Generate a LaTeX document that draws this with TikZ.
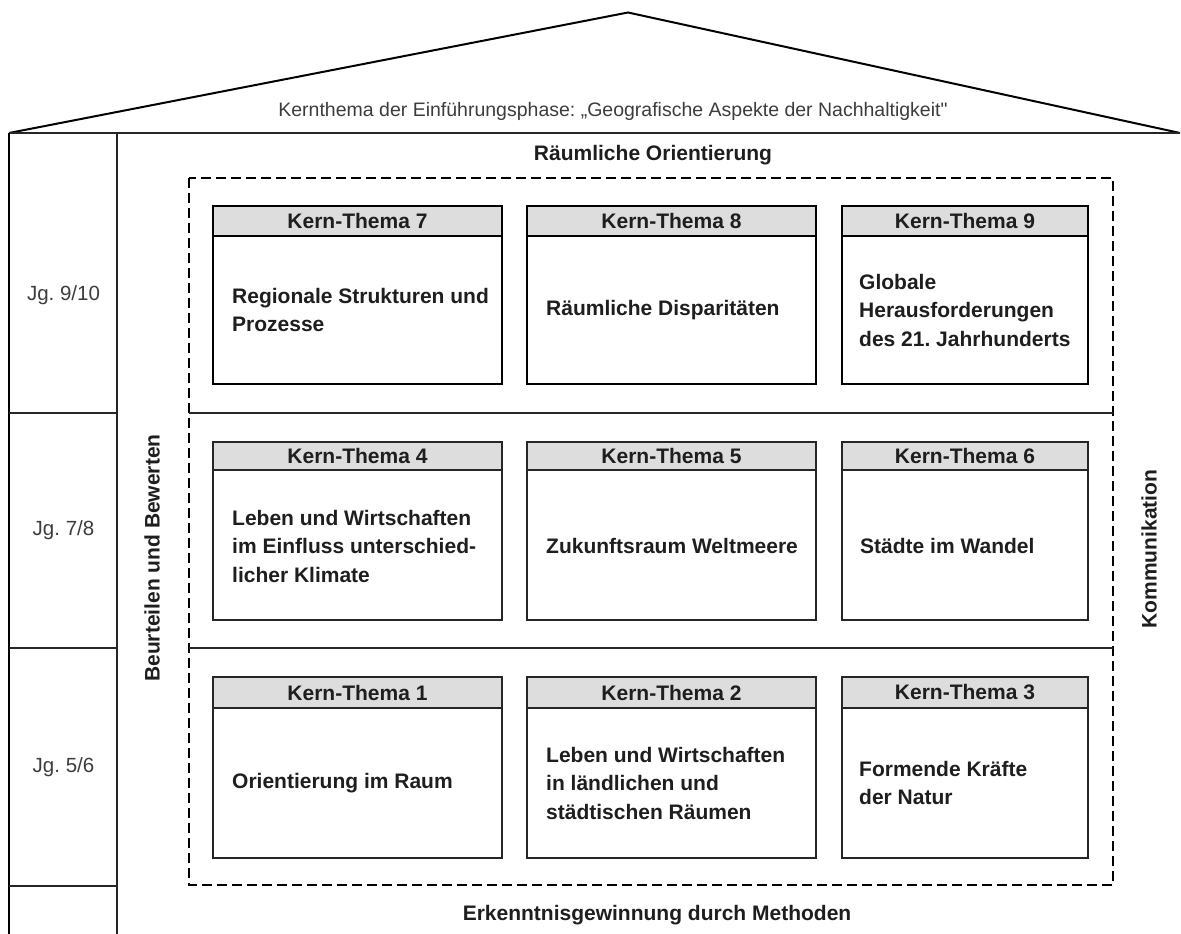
\documentclass[tikz,border=0pt]{standalone}
\usepackage{fontspec}
\setmainfont{Liberation Sans}
\definecolor{hdrgray}{HTML}{DDDDDD}
\definecolor{txtdark}{HTML}{1E1E1E}
\definecolor{txtgray}{HTML}{3C3C3C}
\frenchspacing
\begin{document}
\begin{tikzpicture}[x=1pt,y=-1pt,
  roofline/.style={line width=2pt, line join=miter},
  wallline/.style={line width=2.2pt},
  thinline/.style={line width=1.5pt, draw=black!85},
  dashbox/.style={line width=2.4pt, dash pattern=on 10pt off 5pt},
  hdr/.style={draw, fill=hdrgray, anchor=north west, inner sep=0pt, outer sep=0pt,
    text=txtdark, font=\fontsize{21}{28}\selectfont\bfseries},
  bodybox/.style={draw, anchor=north west, inner sep=0pt, outer sep=0pt},
  heavy/.style={line width=2.6pt},
  light/.style={line width=1.6pt, draw=black!85},
  bodytxt/.style={anchor=west, inner sep=0pt, align=left, text=txtdark,
    font=\fontsize{21}{28.5}\selectfont\bfseries},
  lbl/.style={inner sep=0pt, text=txtdark, font=\fontsize{21}{25}\selectfont\bfseries},
  jg/.style={inner sep=0pt, text=txtgray, font=\fontsize{20.5}{24}\selectfont}
]
\useasboundingbox (0,0) rectangle (1181,934);

% house outline
\coordinate (eL) at (9,133);
\coordinate (apex) at (628,12.5);
\coordinate (eR) at (1180,133);
\coordinate (wB) at (9,934);
\coordinate (cT) at (117,133);
\coordinate (cB) at (117,934);
\draw[roofline] (eL) -- (apex) -- (eR);
\draw[thinline] (eL) -- (eR);
\draw[wallline] (eL) -- (wB);
\draw[thinline] (cT) -- (cB);

% left column separators
\coordinate (l1a) at (9,413);  \coordinate (l1b) at (117,413);
\coordinate (l2a) at (9,648);  \coordinate (l2b) at (117,648);
\coordinate (l3a) at (9,886);  \coordinate (l3b) at (117,886);
\draw[thinline] (l1a) -- (l1b);
\draw[thinline] (l2a) -- (l2b);
\draw[thinline] (l3a) -- (l3b);

% dashed frame and row separators
\coordinate (dTL) at (189,178);
\coordinate (dBR) at (1113,885);
\draw[dashbox] (dTL) rectangle (dBR);
\coordinate (r1a) at (189,413); \coordinate (r1b) at (1113,413);
\coordinate (r2a) at (189,648); \coordinate (r2b) at (1113,648);
\draw[thinline] (r1a) -- (r1b);
\draw[thinline] (r2a) -- (r2b);

% labels
\node[anchor=base, inner sep=0pt, text=txtgray, font=\fontsize{19.5}{24}\selectfont] (roof) at (613,117)
  {Kernthema der Einführungsphase: „Geografische Aspekte der Nachhaltigkeit\textquotedbl};
\node[lbl, anchor=base] (ro) at (653,160) {Räumliche Orientierung};
\node[lbl, anchor=base] (em) at (657,920) {Erkenntnisgewinnung durch Methoden};
\node[lbl, rotate=90] (bb) at (152,558) {Beurteilen und Bewerten};
\node[lbl, rotate=90] (ko) at (1149,549) {Kommunikation};
\node[jg] (jg9) at (63.5,295) {Jg. 9/10};
\node[jg] (jg7) at (63.5,530) {Jg. 7/8};
\node[jg] (jg5) at (63.5,767) {Jg. 5/6};

% ---- top row (heavy borders)
\node[hdr, heavy, minimum width=289pt, minimum height=30pt] (h7) at (213,206) {Kern-Thema 7};
\node[bodybox, heavy, minimum width=289pt, minimum height=148pt] (b7) at (213,236) {};
\node[bodytxt] (t7) at (232,310) {Regionale Strukturen und\\Prozesse};

\node[hdr, heavy, minimum width=289pt, minimum height=30pt] (h8) at (527,206) {Kern-Thema 8};
\node[bodybox, heavy, minimum width=289pt, minimum height=148pt] (b8) at (527,236) {};
\node[bodytxt] (t8) at (546,310) {Räumliche Disparitäten};

\node[hdr, heavy, minimum width=246pt, minimum height=30pt] (h9) at (842,206) {Kern-Thema 9};
\node[bodybox, heavy, minimum width=246pt, minimum height=148pt] (b9) at (842,236) {};
\node[bodytxt] (t9) at (859,310) {Globale\\Herausforderungen\\des 21. Jahrhunderts};

% ---- middle row
\node[hdr, light, minimum width=289pt, minimum height=28pt] (h4) at (213,442) {Kern-Thema 4};
\node[bodybox, light, minimum width=289pt, minimum height=150pt] (b4) at (213,470) {};
\node[bodytxt] (t4) at (232,546) {Leben und Wirtschaften\\im Einfluss unterschied-\\licher Klimate};

\node[hdr, light, minimum width=289pt, minimum height=28pt] (h5) at (527,442) {Kern-Thema 5};
\node[bodybox, light, minimum width=289pt, minimum height=150pt] (b5) at (527,470) {};
\node[bodytxt] (t5) at (546,546) {Zukunftsraum Weltmeere};

\node[hdr, light, minimum width=246pt, minimum height=28pt] (h6) at (842,442) {Kern-Thema 6};
\node[bodybox, light, minimum width=246pt, minimum height=150pt] (b6) at (842,470) {};
\node[bodytxt] (t6) at (860,546) {Städte im Wandel};

% ---- bottom row
\node[hdr, light, minimum width=289pt, minimum height=31pt] (h1) at (213,677) {Kern-Thema 1};
\node[bodybox, light, minimum width=289pt, minimum height=150pt] (b1) at (213,708) {};
\node[bodytxt] (t1) at (232,783) {Orientierung im Raum};

\node[hdr, light, minimum width=289pt, minimum height=31pt] (h2) at (527,677) {Kern-Thema 2};
\node[bodybox, light, minimum width=289pt, minimum height=150pt] (b2) at (527,708) {};
\node[bodytxt] (t2) at (546,783) {Leben und Wirtschaften\\in ländlichen und\\städtischen Räumen};

\node[hdr, light, minimum width=246pt, minimum height=31pt] (h3) at (842,677) {Kern-Thema 3};
\node[bodybox, light, minimum width=246pt, minimum height=150pt] (b3) at (842,708) {};
\node[bodytxt] (t3) at (859,783) {Formende Kräfte\\der Natur};
\end{tikzpicture}
\end{document}
